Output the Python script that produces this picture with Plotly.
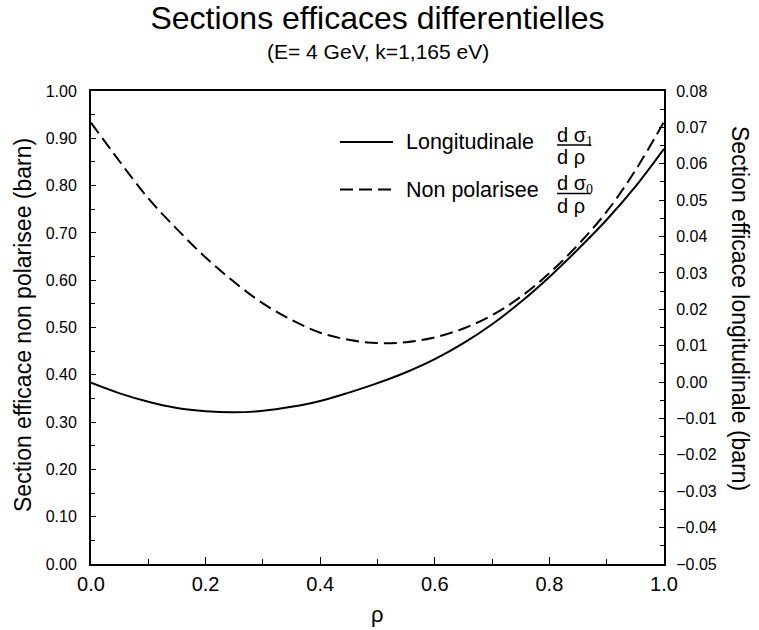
import plotly.graph_objects as go

# rho values (x)
rho = [0.00, 0.05, 0.10, 0.15, 0.20, 0.25, 0.30, 0.35, 0.40, 0.45, 0.50,
       0.55, 0.60, 0.65, 0.70, 0.75, 0.80, 0.85, 0.90, 0.95, 1.00]

# Non polarisee (left axis, barn)
non_polarisee = [0.933, 0.851, 0.773, 0.708, 0.648, 0.596, 0.551, 0.516, 0.489, 0.474, 0.467,
                 0.469, 0.479, 0.498, 0.526, 0.565, 0.615, 0.675, 0.745, 0.832, 0.935]

# Longitudinale (right axis, barn)
longitudinale = [-0.0002, -0.0031, -0.0054, -0.0071, -0.0080, -0.0083, -0.0079, -0.0068, -0.0052, -0.0029, -0.0003,
                 0.0027, 0.0063, 0.0107, 0.0159, 0.0220, 0.0289, 0.0365, 0.0446, 0.0537, 0.0641]

left_ticks = [0.0, 0.1, 0.2, 0.3, 0.4, 0.5, 0.6, 0.7, 0.8, 0.9, 1.0]
right_ticks = [-0.05, -0.04, -0.03, -0.02, -0.01, 0.0, 0.01, 0.02, 0.03, 0.04, 0.05, 0.06, 0.07, 0.08]
x_ticks = [0.0, 0.2, 0.4, 0.6, 0.8, 1.0]

FONT = "Liberation Sans, Arial, Helvetica, sans-serif"

fig = go.Figure()
fig.add_trace(go.Scatter(x=rho, y=non_polarisee, mode="lines",
                         line=dict(color="black", width=2, dash="13px,6px", shape="spline"),
                         name="Non polarisee", yaxis="y", showlegend=False))
fig.add_trace(go.Scatter(x=rho, y=longitudinale, mode="lines",
                         line=dict(color="black", width=2, shape="spline"),
                         name="Longitudinale", yaxis="y2", showlegend=False))

W, H = 759, 630
L, R, T, B = 91, 95, 91, 66
pw, ph = W - L - R, H - T - B

def px(x):
    return (x - L) / pw

def py(y):
    return (H - B - y) / ph

annotations = []
shapes = []

# legend entries: (label, dash, y of line/text, subscript, y numerator, y bar, y denominator)
leg = [("Longitudinale", "solid", 142.0, "1", 136.0, 145.0, 157.0),
       ("Non polarisee", "13px,6px", 189.5, "0", 184.5, 193.5, 205.5)]
for label, dash, yy, sub, yn, yb, yd in leg:
    shapes.append(dict(type="line", xref="paper", yref="paper", x0=px(340), x1=px(393), y0=py(yy), y1=py(yy),
                       line=dict(color="black", width=2, dash=dash)))
    annotations.append(dict(text=label, xref="paper", yref="paper", x=px(404), y=py(yy), xanchor="left",
                            yanchor="middle", showarrow=False,
                            font=dict(size=21.5, color="black", family=FONT)))
    annotations.append(dict(text="d σ<sub><span style='font-family:Liberation Serif'>" + sub + "</span></sub>",
                            xref="paper", yref="paper", x=px(555), y=py(yn), xanchor="left", yanchor="middle",
                            showarrow=False, font=dict(size=20, color="black", family=FONT)))
    shapes.append(dict(type="line", xref="paper", yref="paper", x0=px(557), x1=px(591), y0=py(yb), y1=py(yb),
                       line=dict(color="black", width=1.3)))
    annotations.append(dict(text="d ρ", xref="paper", yref="paper", x=px(555), y=py(yd), xanchor="left",
                            yanchor="middle", showarrow=False, font=dict(size=20, color="black", family=FONT)))

# axis titles
annotations.append(dict(text="Section efficace non polarisee (barn)", xref="paper", yref="paper",
                        x=px(23), y=py(325), xanchor="center", yanchor="middle", textangle=-90, showarrow=False,
                        font=dict(size=23, color="black", family=FONT)))
annotations.append(dict(text="Section efficace longitudinale (barn)", xref="paper", yref="paper",
                        x=px(740), y=py(308), xanchor="center", yanchor="middle", textangle=90, showarrow=False,
                        font=dict(size=23, color="black", family=FONT)))
annotations.append(dict(text="ρ", xref="paper", yref="paper",
                        x=px(377), y=py(614), xanchor="center", yanchor="middle", showarrow=False,
                        font=dict(size=22, color="black", family=FONT)))
# subtitle
annotations.append(dict(text="(E= 4 GeV, k=1,165 eV)", xref="paper", yref="paper",
                        x=0.5, y=py(52), xanchor="center", yanchor="middle", showarrow=False,
                        font=dict(size=21, color="black", family=FONT)))

fig.update_layout(
    width=W, height=H,
    margin=dict(l=L, r=R, t=T, b=B),
    paper_bgcolor="white", plot_bgcolor="white",
    font=dict(family=FONT, color="black"),
    title=dict(text="Sections efficaces differentielles", x=0.5, xanchor="center", xref="paper",
               y=1 - 18 / H, yanchor="middle",
               font=dict(size=32, color="black", family=FONT)),
    xaxis=dict(range=[0, 1], tickvals=x_ticks, tickformat=".1f", ticks="inside", ticklen=7, tickcolor="black",
               tickwidth=1.3,
               showline=True, linecolor="black", linewidth=2, mirror=True, showgrid=False, zeroline=False,
               tickfont=dict(size=20, color="black"), ticklabelstandoff=1,
               minor=dict(dtick=0.1, ticks="inside", ticklen=5, tickcolor="black", tickwidth=1.3)),
    yaxis=dict(range=[0, 1], tickvals=left_ticks, tickformat=".2f", ticks="inside", ticklen=5, tickcolor="black",
               tickwidth=1.3,
               showline=True, linecolor="black", linewidth=2, mirror=False, showgrid=False, zeroline=False,
               tickfont=dict(size=16, color="black"), ticklabelstandoff=9,
               minor=dict(dtick=0.05, ticks="inside", ticklen=4, tickcolor="black", tickwidth=1.3)),
    yaxis2=dict(range=[-0.05, 0.08], tickvals=right_ticks, tickformat=".2f", ticks="inside", ticklen=5,
                tickcolor="black", tickwidth=1.3,
                overlaying="y", side="right",
                showline=True, linecolor="black", linewidth=2, showgrid=False, zeroline=False,
                tickfont=dict(size=16, color="black"), ticklabelstandoff=7,
                minor=dict(dtick=0.005, ticks="inside", ticklen=4, tickcolor="black", tickwidth=1.3)),
    annotations=annotations,
    shapes=shapes,
    showlegend=False,
)

fig.write_html("out.html",
               config={"displayModeBar": False},
               post_script="document.body.style.margin='0px';document.body.style.overflow='hidden';")
